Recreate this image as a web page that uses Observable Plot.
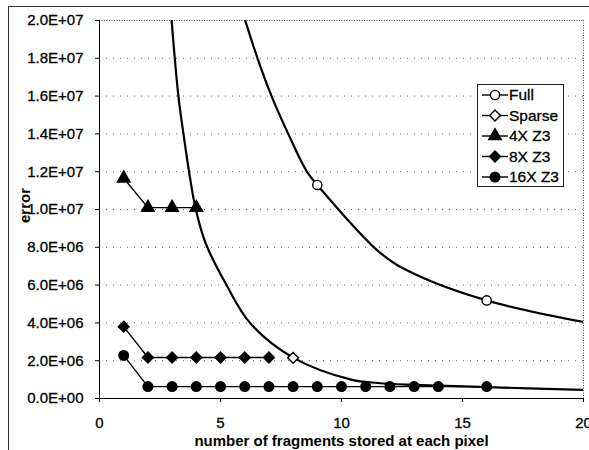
<!DOCTYPE html>
<html><head><meta charset="utf-8">
<script src="https://cdn.jsdelivr.net/npm/d3@7"></script>
<script src="https://cdn.jsdelivr.net/npm/@observablehq/plot@0.6"></script>
<style>
body{margin:0;background:#fff;}
#chart{position:relative;width:589px;height:450px;overflow:hidden;background:#fff;}
#frame{position:absolute;left:8px;top:6px;width:600px;height:460px;border-left:1px solid #333;border-top:1px solid #333;}
#chart svg{position:absolute;left:0;top:0;}
#chart svg g[aria-label$="tick label"] text, #chart svg .legend text{stroke:#000;stroke-width:0.3px;}
</style></head><body><div id="chart"><div id="frame"></div></div>
<script>
// ---- data ----
const fullCurveX = [5.9, 6.53, 7.11, 7.8, 8.57, 9, 11.64, 13, 16, 20.2];
const fullCurveY = [2.05e7, 1.8e7, 1.6e7, 1.4e7, 1.2e7, 1.13e7, 7.66e6, 6.6e6, 5.19e6, 4.0e6];
const fullMarkX = [9, 16];
const fullMarkY = [1.13e7, 5.19e6];

const sparseCurveX = [2.98, 3.26, 3.47, 3.7, 3.98, 4.39, 5.22, 6.25, 8.02, 10.4, 11.5, 13, 16, 20];
const sparseCurveY = [2.0e7, 1.6e7, 1.4e7, 1.2e7, 1.0e7, 8.2e6, 6.07e6, 3.95e6, 2.15e6, 1.0e6, 8.2e5, 7.2e5, 6.0e5, 4.6e5];
const sparseMarkX = [8];
const sparseMarkY = [2.15e6];

const z4X = [1, 2, 3, 4];
const z4Y = [1.165e7, 1.01e7, 1.01e7, 1.01e7];
const z8X = [1, 2, 3, 4, 5, 6, 7];
const z8Y = [3.8e6, 2.17e6, 2.17e6, 2.17e6, 2.17e6, 2.17e6, 2.17e6];
const z16X = [1, 2, 3, 4, 5, 6, 7, 8, 9, 10, 11, 12, 13, 14, 16];
const z16Y = [2.28e6, 6.3e5, 6.3e5, 6.3e5, 6.3e5, 6.3e5, 6.3e5, 6.3e5, 6.3e5, 6.3e5, 6.3e5, 6.3e5, 6.3e5, 6.3e5, 6.3e5];

const xTicks = [0, 5, 10, 15, 20];
const xTickLabels = ["0", "5", "10", "15", "20"];
const yTicks = [0, 2e6, 4e6, 6e6, 8e6, 1e7, 1.2e7, 1.4e7, 1.6e7, 1.8e7, 2e7];
const yTickLabels = ["0.0E+00", "2.0E+06", "4.0E+06", "6.0E+06", "8.0E+06", "1.0E+07", "1.2E+07", "1.4E+07", "1.6E+07", "1.8E+07", "2.0E+07"];

const seriesNames = ["Full", "Sparse", "4X Z3", "8X Z3", "16X Z3"];
const xLabel = "number of fragments stored at each pixel";
const yLabel = "error";

// ---- build tables ----
const zip = (xs, ys) => xs.map((x, i) => ({x, y: ys[i]}));
const fullCurve = zip(fullCurveX, fullCurveY);
const fullMarks = zip(fullMarkX, fullMarkY);
const sparseCurve = zip(sparseCurveX, sparseCurveY);
const sparseMarks = zip(sparseMarkX, sparseMarkY);
const s4 = zip(z4X, z4Y), s8 = zip(z8X, z8Y), s16 = zip(z16X, z16Y);

const font = "'Liberation Sans', Arial, sans-serif";
const plot = Plot.plot({
  width: 589, height: 450,
  marginLeft: 99, marginRight: 6, marginTop: 20, marginBottom: 52,
  style: {fontFamily: font, fontSize: "15px", color: "#000", background: "transparent", overflow: "visible"},
  x: {domain: [0, 20], ticks: xTicks, tickFormat: (d) => xTickLabels[xTicks.indexOf(d)], tickSize: 4, tickPadding: 15, label: null},
  y: {domain: [0, 2e7], ticks: yTicks, tickFormat: (d) => yTickLabels[yTicks.indexOf(d)], tickSize: 4, tickPadding: 12, label: null},
  marks: [
    Plot.gridY(yTicks.filter(d => d > 0 && d < 2e7), {stroke: "#000", strokeOpacity: 0.6, strokeDasharray: "1,6"}),
    Plot.ruleY([2e7], {stroke: "#000", strokeOpacity: 0.7, strokeDasharray: "1,1.5"}),
    Plot.ruleX([20], {stroke: "#000", strokeOpacity: 0.7, strokeDasharray: "1,1.5"}),
    Plot.ruleX([0], {stroke: "#000"}),
    Plot.ruleY([0], {stroke: "#000"}),
    Plot.line(fullCurve, {x: "x", y: "y", curve: "catmull-rom", stroke: "#000", strokeWidth: 2.2, clip: true}),
    Plot.line(sparseCurve, {x: "x", y: "y", curve: "catmull-rom", stroke: "#000", strokeWidth: 2.2, clip: true}),
    Plot.line(s4, {x: "x", y: "y", stroke: "#000", strokeWidth: 1.4}),
    Plot.line(s8, {x: "x", y: "y", stroke: "#000", strokeWidth: 1.4}),
    Plot.line(s16, {x: "x", y: "y", stroke: "#000", strokeWidth: 1.4}),
    Plot.dot(fullMarks, {x: "x", y: "y", symbol: "circle", r: 4.6, stroke: "#000", strokeWidth: 1.4, fill: "#fff"}),
    Plot.dot(sparseMarks, {x: "x", y: "y", symbol: "square", rotate: 45, r: 4.3, stroke: "#000", strokeWidth: 1.4, fill: "#fff"}),
    Plot.dot(s4, {x: "x", y: "y", symbol: "triangle", r: 5.6, fill: "#000", stroke: "none"}),
    Plot.dot(s8, {x: "x", y: "y", symbol: "square", rotate: 45, r: 5.1, fill: "#000", stroke: "none"}),
    Plot.dot(s16, {x: "x", y: "y", symbol: "circle", r: 5.5, fill: "#000", stroke: "none"}),
    Plot.text([xLabel], {frameAnchor: "bottom", dy: 43, lineAnchor: "middle", fontWeight: "bold", fontSize: 15}),
    Plot.text([yLabel], {frameAnchor: "left", rotate: -90, dx: -74, dy: -4, textAnchor: "middle", lineAnchor: "middle", fontWeight: "bold", fontSize: 15})
  ]
});
document.getElementById("chart").appendChild(plot);

// ---- legend drawn inside the plot area ----
const svg = d3.select(plot);
const lg = svg.append("g").attr("class", "legend").attr("font-family", font).attr("font-size", 15.5).attr("text-anchor", "start");
lg.append("rect").attr("x", 477.5).attr("y", 84.5).attr("width", 86).attr("height", 102)
  .attr("fill", "#fff").attr("stroke", "#222").attr("stroke-width", 1);
const legendSyms = [
  {t: d3.symbolCircle, r: 4.6, fill: "#fff", stroke: "#000", rot: 0},
  {t: d3.symbolSquare, r: 4.3, fill: "#fff", stroke: "#000", rot: 45},
  {t: d3.symbolTriangle, r: 5.6, fill: "#000", stroke: "none", rot: 0},
  {t: d3.symbolSquare, r: 5.1, fill: "#000", stroke: "none", rot: 45},
  {t: d3.symbolCircle, r: 5.5, fill: "#000", stroke: "none", rot: 0}
];
seriesNames.forEach((name, i) => {
  const y = 95 + i * 20.5;
  const g = lg.append("g");
  g.append("line").attr("x1", 482).attr("x2", 508).attr("y1", y).attr("y2", y).attr("stroke", "#000").attr("stroke-width", 1.4);
  const s = legendSyms[i];
  g.append("path").attr("d", d3.symbol(s.t, Math.PI * s.r * s.r)())
    .attr("transform", `translate(495,${y}) rotate(${s.rot})`)
    .attr("fill", s.fill).attr("stroke", s.stroke).attr("stroke-width", 1.4);
  g.append("text").attr("x", 509).attr("y", y).attr("dy", "0.35em").text(name);
});
</script>
</body></html>
